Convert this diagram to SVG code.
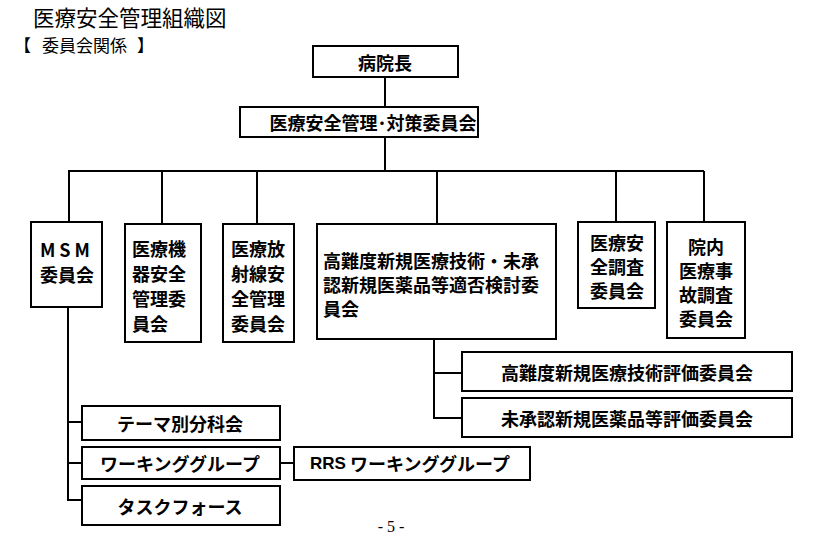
<svg xmlns="http://www.w3.org/2000/svg" width="813" height="535" viewBox="0 0 813 535">
<style>
.box{fill:#ffffff;stroke:#000;stroke-width:2}
.t{font-family:"Noto Sans CJK JP","Noto Sans CJK SC",sans-serif;font-weight:bold;font-size:18px;fill:#000;dominant-baseline:central}
.c{text-anchor:middle}
.ln{fill:none;stroke:#000;stroke-width:2}
.hd{font-family:"Liberation Serif","Noto Sans CJK JP",serif;fill:#000}
</style>
<rect width="813" height="535" fill="#fff"/>
<text class="hd" x="33" y="26" font-size="21.5">医療安全管理組織図</text>
<text class="hd" y="52" font-size="17"><tspan x="14">【</tspan><tspan x="42">委員会関係</tspan><tspan x="137">】</tspan></text>
<g id="connectors">
<path class="ln" d="M385,77V107M385,137V171M68,171H704M69,171V222M162,171V224M257,171V224M437,171V224M616,171V222M704,171V222"/>
<path class="ln" d="M68,307V500H82M68,422H82M68,463H82M280,463H294"/>
<path class="ln" d="M434,339V418H462M434,373H462"/>
</g>
<g id="n-hospital"><rect class="box" x="313" y="46" width="145" height="31"/><text class="t c" x="385" y="62">病院長</text></g>
<g id="n-safety"><rect class="box" x="240" y="107" width="238" height="30"/><text class="t c" x="373" y="122" font-size="17">医療安全管理･対策委員会</text></g>
<g id="n-msm"><rect class="box" x="31" y="222" width="71" height="85"/>
<text class="t c" x="67" y="249" font-size="17" letter-spacing="4">MSM</text><text class="t c" x="67" y="274" font-size="17">委員会</text></g>
<g id="n-device"><rect class="box" x="125" y="224" width="76" height="118"/>
<text class="t" x="132" y="248">医療機</text><text class="t" x="132" y="273">器安全</text><text class="t" x="132" y="298">管理委</text><text class="t" x="132" y="323">員会</text></g>
<g id="n-radiation"><rect class="box" x="223" y="224" width="71" height="118"/>
<text class="t" x="231" y="248">医療放</text><text class="t" x="231" y="273">射線安</text><text class="t" x="231" y="298">全管理</text><text class="t" x="231" y="323">委員会</text></g>
<g id="n-advanced"><rect class="box" x="317" y="224" width="239" height="115"/>
<text class="t" x="323" y="260">高難度新規医療技術・未承</text><text class="t" x="323" y="284">認新規医薬品等適否検討委</text><text class="t" x="323" y="308">員会</text></g>
<g id="n-survey"><rect class="box" x="578" y="222" width="77" height="86"/>
<text class="t c" x="617" y="242">医療安</text><text class="t c" x="617" y="266">全調査</text><text class="t c" x="617" y="290">委員会</text></g>
<g id="n-accident"><rect class="box" x="667" y="222" width="78" height="116"/>
<text class="t c" x="706" y="246">院内</text><text class="t c" x="706" y="270">医療事</text><text class="t c" x="706" y="294">故調査</text><text class="t c" x="706" y="318">委員会</text></g>
<g id="n-tech-eval"><rect class="box" x="462" y="352" width="330" height="39"/><text class="t c" x="627" y="372">高難度新規医療技術評価委員会</text></g>
<g id="n-drug-eval"><rect class="box" x="462" y="398" width="330" height="39"/><text class="t c" x="627" y="418">未承認新規医薬品等評価委員会</text></g>
<g id="n-theme"><rect class="box" x="82" y="406" width="198" height="34"/><text class="t c" x="180" y="423">テーマ別分科会</text></g>
<g id="n-wg"><rect class="box" x="82" y="447" width="198" height="32"/><text class="t c" x="180" y="463">ワーキンググループ</text></g>
<g id="n-task"><rect class="box" x="82" y="486" width="198" height="39"/><text class="t c" x="180" y="506">タスクフォース</text></g>
<g id="n-rrs"><rect class="box" x="294" y="447" width="236" height="33"/><text class="t c" x="410" y="463"><tspan font-family="Liberation Sans" font-size="17">RRS</tspan> ワーキンググループ</text></g>
<text class="hd" x="391" y="532" font-size="16" text-anchor="middle">- 5 -</text>
</svg>
